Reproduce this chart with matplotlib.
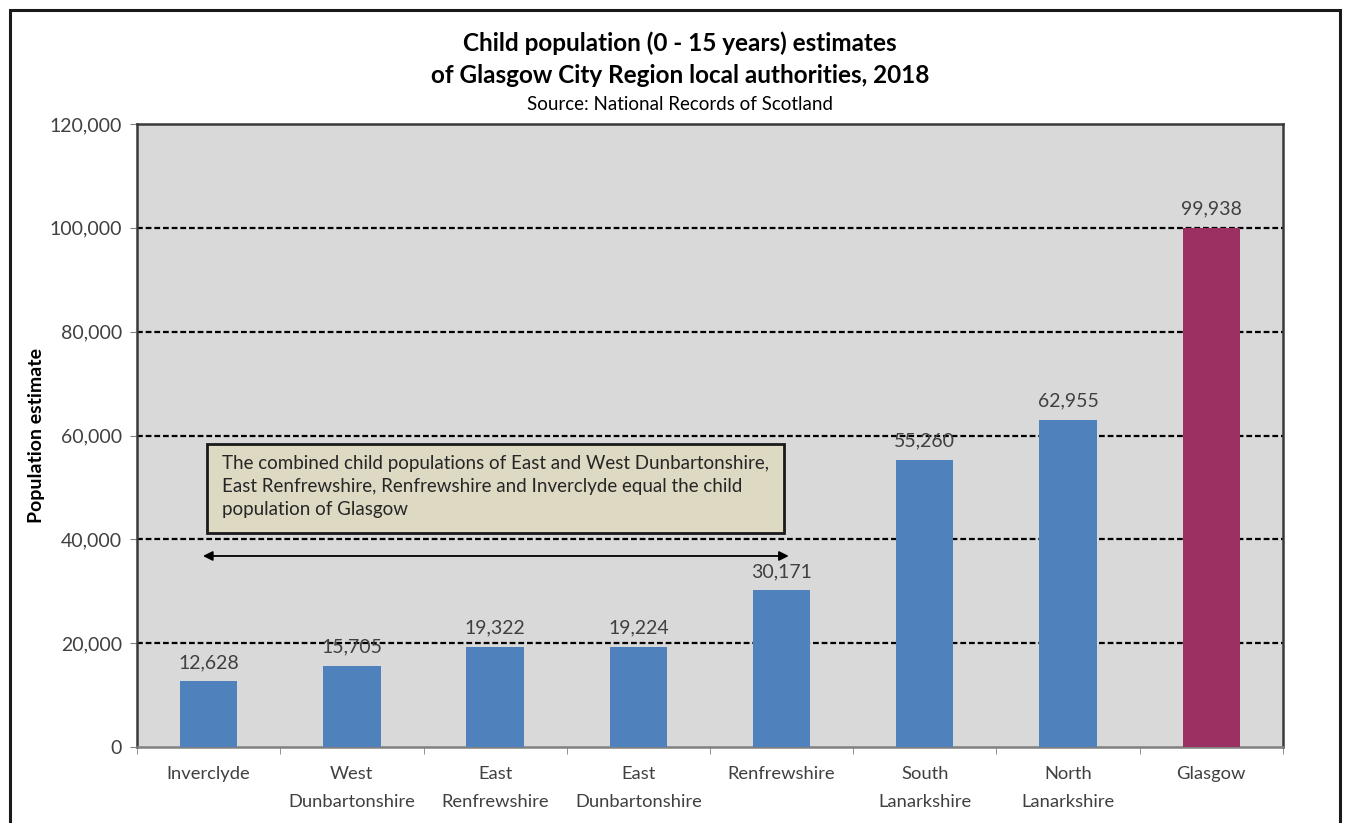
import matplotlib.pyplot as plt
from matplotlib.patches import Rectangle
from matplotlib.ticker import FuncFormatter, FixedLocator

plt.rcParams['font.family'] = ['Lato', 'DejaVu Sans']

areas = ["Inverclyde", "West\nDunbartonshire", "East\nRenfrewshire", "East\nDunbartonshire",
         "Renfrewshire", "South\nLanarkshire", "North\nLanarkshire", "Glasgow"]
children = [12628, 15705, 19322, 19224, 30171, 55260, 62955, 99938]
bar_colours = ["#4f81bd"] * 7 + ["#9a3162"]

note = ("The combined child populations of East and West Dunbartonshire,\n"
        "East Renfrewshire, Renfrewshire and Inverclyde equal the child\n"
        "population of Glasgow")

fig = plt.figure(figsize=(13.49, 8.23), dpi=100)
ax = fig.add_axes([0.1016, 0.0923, 0.8494, 0.757])
ax.set_facecolor("#d9d9d9")

x = range(len(areas))
ax.bar(x, children, width=0.4, color=bar_colours, zorder=3)
for xi, v in zip(x, children):
    ax.text(xi, v + 2000, f"{v:,}", ha="center", va="bottom", fontsize=14,
            color="#404040", zorder=4)

ax.set_xlim(-0.5, len(areas) - 0.5)
ax.set_ylim(0, 120000)
ax.set_yticks(range(0, 120001, 20000))
ax.yaxis.set_major_formatter(FuncFormatter(lambda v, p: f"{int(v):,}"))
for y in range(20000, 100001, 20000):
    ax.axhline(y, color="black", lw=1.6, ls=(0, (2.6, 1.3)), zorder=2)

ax.set_xticks(list(x))
ax.set_xticklabels(areas, fontsize=13.2, color="#404040", linespacing=1.85, va="top")
ax.xaxis.set_minor_locator(FixedLocator([i - 0.5 for i in range(len(areas) + 1)]))
ax.tick_params(axis="x", which="major", length=0, pad=14)
ax.tick_params(axis="x", which="minor", length=5, color="#808080", direction="out")
ax.tick_params(axis="y", length=5, color="#808080", labelsize=14, labelcolor="#404040", pad=6)
for s in ax.spines.values():
    s.set_color("#3a3a3a")
    s.set_linewidth(1.8)
ax.spines["bottom"].set_color("#808080")

ax.set_ylabel("Population estimate", fontsize=14, fontweight="bold", labelpad=3)

# note box and double-headed arrow spanning the five smaller authorities
ax.add_patch(Rectangle((-0.012, 41200), 4.03, 17200, facecolor="#ddd9c3",
                       edgecolor="#1a1a1a", lw=2, zorder=5))
ax.text(0.09, 56300, note, ha="left", va="top", fontsize=13.5, color="#262626",
        linespacing=1.45, zorder=6)
ax.annotate("", xy=(4.05, 36800), xytext=(-0.04, 36800),
            arrowprops=dict(arrowstyle="<|-|>", color="black", lw=1.3,
                            mutation_scale=14, shrinkA=0, shrinkB=0), zorder=6)

fig.text(0.504, 0.947, "Child population (0 - 15 years) estimates", ha="center",
         va="center", fontsize=17.5, fontweight="bold")
fig.text(0.504, 0.908, "of Glasgow City Region local authorities, 2018", ha="center",
         va="center", fontsize=17.5, fontweight="bold")
fig.text(0.504, 0.873, "Source: National Records of Scotland", ha="center",
         va="center", fontsize=13.5)

# outer chart border, running off the bottom edge
fig.patches.append(Rectangle((10 / 1349, -0.05), 1330 / 1349, 1.05 - 10 / 823,
                             transform=fig.transFigure, fill=False,
                             edgecolor="#1a1a1a", lw=2.2))

fig.savefig("out.png", dpi=100)
